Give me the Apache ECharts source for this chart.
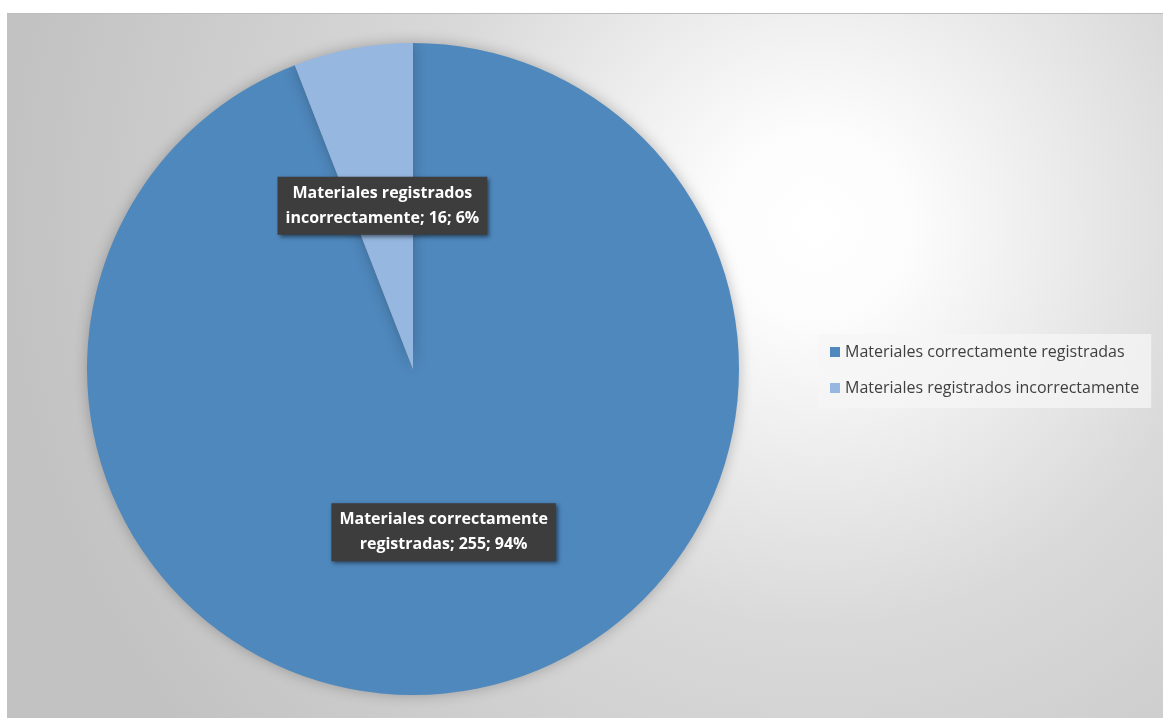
<!DOCTYPE html>
<html><head><meta charset="utf-8">
<script src="https://cdn.jsdelivr.net/npm/echarts@6/dist/echarts.min.js"></script>
<style>
html,body{margin:0;padding:0;background:#fff;width:1163px;height:718px;overflow:hidden}
#c{position:absolute;left:7px;top:13px;width:1156px;height:705px;border-top:1px solid #bdbdbd;box-sizing:border-box}
</style></head><body>
<div id="c"></div>
<script>
const categories = ["Materiales correctamente registradas", "Materiales registrados incorrectamente"];
const values = [255, 16];
const percents = ["94%", "6%"];
const colors = ["#4F88BD", "#95B7E0"];

const chart = echarts.init(document.getElementById('c'));
chart.setOption({
  animation: false,
  backgroundColor: {
    type: 'radial', x: 0.7, y: 0.3, r: 1.15,
    colorStops: [
      {offset: 0, color: '#ffffff'},
      {offset: 0.12, color: '#fcfcfc'},
      {offset: 0.5, color: '#d9d9d9'},
      {offset: 1, color: '#c2c2c2'}
    ]
  },
  legend: {
    orient: 'vertical',
    left: 811, top: 320,
    itemWidth: 10, itemHeight: 10, itemGap: 20,
    icon: 'rect',
    padding: [10, 12, 12, 12],
    backgroundColor: 'rgba(246,246,246,0.75)',
    textStyle: {fontFamily: 'Open Sans', fontSize: 16, color: '#404040'},
    data: categories
  },
  series: [{
    type: 'pie',
    center: [406, 355],
    radius: 326,
    startAngle: 90,
    clockwise: true,
    label: {
      show: true,
      position: 'inside',
      formatter: function (p) {
        return p.name.replace(/ (\S+)$/, '\n$1') + '; ' + p.value + '; ' + percents[p.dataIndex];
      },
      fontFamily: 'Open Sans', fontWeight: 'bold', fontSize: 16, lineHeight: 25,
      color: '#ffffff',
      backgroundColor: '#3d3d3d',
      padding: [4, 8, 4, 8],
      shadowColor: 'rgba(0,0,0,0.5)', shadowBlur: 4, shadowOffsetX: 2, shadowOffsetY: 2
    },
    labelLine: {show: false},
    itemStyle: {shadowBlur: 14, shadowColor: 'rgba(0,0,0,0.25)'},
    emphasis: {disabled: true},
    data: categories.map((n, i) => ({name: n, value: values[i], itemStyle: {color: colors[i]}}))
  }]
});
</script>
</body></html>
